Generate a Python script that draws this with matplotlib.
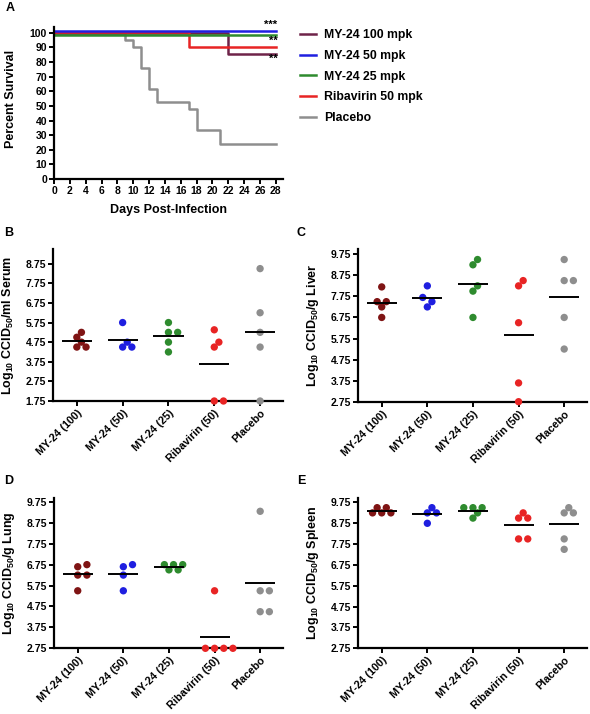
import numpy as np
import matplotlib
matplotlib.use("Agg")
import matplotlib.pyplot as plt
import matplotlib.transforms as mtrans
from matplotlib.lines import Line2D

plt.rcParams['font.family'] = ['Liberation Sans', 'DejaVu Sans']
plt.rcParams['font.weight'] = 'bold'
plt.rcParams['mathtext.fontset'] = 'custom'
plt.rcParams['mathtext.rm'] = 'Liberation Sans:bold'
plt.rcParams['mathtext.it'] = 'Liberation Sans:bold'
plt.rcParams['mathtext.bf'] = 'Liberation Sans:bold'

# ---------------- data ----------------
surv_labels = ["MY-24 100 mpk", "MY-24 50 mpk", "MY-24 25 mpk", "Ribavirin 50 mpk", "Placebo"]
surv_colors = ["#6E2349", "#1F1FE0", "#2E8B2E", "#E82424", "#8E8E8E"]
days_my100 = [0, 22, 28]
surv_my100 = [100, 85.7, 85.7]
days_my50 = [0, 28]
surv_my50 = [100, 100]
days_my25 = [0, 28]
surv_my25 = [100, 100]
days_riba = [0, 17, 28]
surv_riba = [100, 90, 90]
days_plac = [0, 9, 10, 11, 12, 13, 17, 18, 21, 28]
surv_plac = [100, 95.2, 90.5, 76.2, 61.9, 52.4, 47.6, 33.3, 23.8, 23.8]
stars = ["***", "**", "**"]
star_y = [105.5, 94.5, 82.5]

groups = ["MY-24 (100)", "MY-24 (50)", "MY-24 (25)", "Ribavirin (50)", "Placebo"]
group_colors = ["#7F1414", "#1F1FE0", "#2E8B2E", "#E82424", "#8E8E8E"]

serum = [[5.25, 5.0, 4.75, 4.5, 4.5],
         [5.75, 4.75, 4.5, 4.5],
         [5.75, 5.25, 5.25, 4.75, 4.25],
         [5.38, 4.75, 4.5, 1.75, 1.75],
         [8.5, 6.25, 5.25, 4.5, 1.75]]
liver = [[8.2, 7.5, 7.5, 7.25, 6.75],
         [8.25, 7.7, 7.5, 7.25],
         [9.5, 9.25, 8.25, 8.0, 6.75],
         [8.5, 8.25, 6.5, 3.64, 2.75],
         [9.5, 8.5, 8.5, 6.75, 5.25]]
lung = [[6.75, 6.65, 6.25, 6.25, 5.5],
        [6.75, 6.65, 6.25, 5.5],
        [6.75, 6.75, 6.75, 6.5, 6.5],
        [5.5, 2.75, 2.75, 2.75, 2.75],
        [9.3, 5.5, 5.5, 4.5, 4.5]]
spleen = [[9.5, 9.5, 9.25, 9.25, 9.25],
          [9.5, 9.25, 9.25, 8.75],
          [9.5, 9.5, 9.5, 9.25, 9.0],
          [9.25, 9.0, 9.0, 8.0, 8.0],
          [9.5, 9.25, 9.25, 8.0, 7.5]]

serum_ticks = [1.75, 2.75, 3.75, 4.75, 5.75, 6.75, 7.75, 8.75]
tissue_ticks = [2.75, 3.75, 4.75, 5.75, 6.75, 7.75, 8.75, 9.75]

# ---------------- figure ----------------
W, H = 590, 714
fig = plt.figure(figsize=(W / 100, H / 100), dpi=100)


def px_axes(left, top, right, bottom):
    return fig.add_axes([left / W, 1 - bottom / H, (right - left) / W, (bottom - top) / H])


def style(ax):
    for s in ['top', 'right']:
        ax.spines[s].set_visible(False)
    for s in ['left', 'bottom']:
        ax.spines[s].set_linewidth(1.6)
    ax.tick_params(direction='out', length=3.5, width=1.4, labelsize=7.5, pad=1.5)


# Panel A
axA = px_axes(54, 27, 283, 179)
style(axA)
survs = [(days_my100, surv_my100), (days_my50, surv_my50), (days_my25, surv_my25),
         (days_riba, surv_riba), (days_plac, surv_plac)]
offsets = [0, 1.0, -1.2, 0.3, 0]
order = [4, 0, 3, 2, 1]
for i in order:
    d, s = survs[i]
    tr = mtrans.offset_copy(axA.transData, fig=fig, x=0, y=offsets[i], units='points')
    axA.step(d, s, where='post', color=surv_colors[i], lw=1.8, transform=tr, clip_on=False)
handles = [Line2D([], [], color=c, lw=1.8) for c in surv_colors]
axA.set_xlim(0, 28.9)
axA.set_ylim(0, 104)
axA.set_xticks(range(0, 29, 2))
axA.set_yticks(range(0, 101, 10))
axA.set_xlabel("Days Post-Infection", fontsize=9, fontweight='bold', labelpad=6)
axA.set_ylabel("Percent Survival", fontsize=9, fontweight='bold')
axA.yaxis.set_label_coords(-0.16, 0.525)
for t, y in zip(stars, star_y):
    axA.text(28.2, y, t, ha='right', va='center', fontsize=8, fontweight='bold', clip_on=False)
fig.legend(handles, surv_labels, loc='upper left', bbox_to_anchor=(300 / W, 1 - 29 / H),
           frameon=False, handlelength=1.3, handletextpad=0.7,
           labelspacing=0.72, borderaxespad=0, borderpad=0,
           prop={'weight': 'bold', 'size': 8.8})


def swarm(vals, ppu_y, step_px=9.2, min_px=6.6):
    placed = []
    out = []
    cands = [0, 0.5, -0.5, 1, -1, 1.5, -1.5, 2, -2, 2.5, -2.5]
    for v in vals:
        for k in cands:
            ok = True
            for (pk, pv) in placed:
                dx = (k - pk) * step_px
                dy = (v - pv) * ppu_y
                if dx * dx + dy * dy < min_px * min_px - 1e-9:
                    ok = False
                    break
            if ok:
                placed.append((k, v))
                out.append(k)
                break
    return out


def scatter_panel(box, data, ylim, ticks, ylabel, letter, letter_xy):
    left, top, right, bottom = box
    ax = px_axes(left, top, right, bottom)
    style(ax)
    ppu_y = (bottom - top) / (ylim[1] - ylim[0])
    ppu_x = 45.75
    for i, vals in enumerate(data):
        vs = sorted(vals)
        ks = swarm(vs, ppu_y)
        xs = [i + k * 9.2 / ppu_x for k in ks]
        ax.scatter(xs, vs, s=28, color=group_colors[i], edgecolors='none', zorder=3, clip_on=False)
        m = np.mean(vals)
        ax.hlines(m, i - 0.33, i + 0.33, color='black', lw=1.4, zorder=4)
    ax.set_xlim(-0.52, 4.5)
    ax.set_ylim(*ylim)
    ax.set_yticks(ticks)
    ax.set_yticklabels(["%.2f" % t for t in ticks])
    ax.set_xticks(range(5))
    ax.set_xticklabels(groups, rotation=45, ha='right', rotation_mode='anchor', fontsize=7.8)
    ax.set_ylabel(ylabel, fontsize=9, fontweight='bold')
    ax.yaxis.set_label_coords(-0.16, 0.5)
    fig.text(letter_xy[0] / W, 1 - letter_xy[1] / H, letter, fontsize=9, fontweight='bold',
             ha='left', va='center')
    return ax


fig.text(6 / W, 1 - 8 / H, "A", fontsize=9, fontweight='bold', ha='left', va='center')
scatter_panel((53, 249, 283, 401), serum, (1.75, 9.5), serum_ticks,
              r"Log$_{10}$ CCID$_{50}$/ml Serum", "B", (4, 233))
scatter_panel((358, 249, 587, 401.7), liver, (2.75, 10.0), tissue_ticks,
              r"Log$_{10}$ CCID$_{50}$/g Liver", "C", (297, 233))
scatter_panel((54, 497.7, 283, 648.3), lung, (2.75, 9.95), tissue_ticks,
              r"Log$_{10}$ CCID$_{50}$/g Lung", "D", (4, 481))
scatter_panel((358, 498.3, 587, 648.3), spleen, (2.75, 9.95), tissue_ticks,
              r"Log$_{10}$ CCID$_{50}$/g Spleen", "E", (297, 481))

fig.savefig("out.png", dpi=100)
